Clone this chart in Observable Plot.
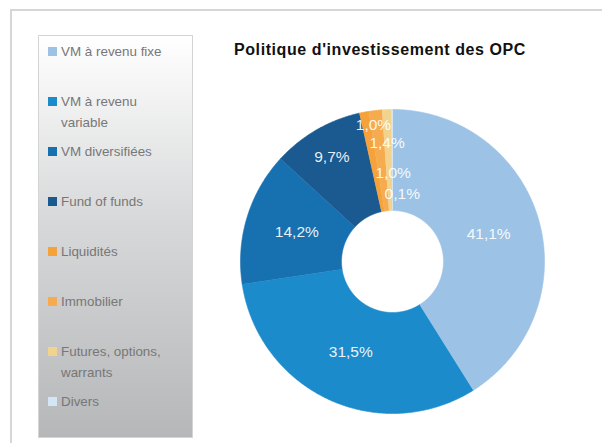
<!DOCTYPE html>
<html>
<head>
<meta charset="utf-8">
<script src="https://cdn.jsdelivr.net/npm/d3@7"></script>
<script src="https://cdn.jsdelivr.net/npm/@observablehq/plot@0.6"></script>
<style>
  html, body { margin: 0; padding: 0; background: #fff; }
  body { width: 602px; height: 443px; position: relative; overflow: hidden; font-family: "Liberation Sans", Arial, sans-serif; }
  #frame { position: absolute; left: 10px; top: 9px; width: 600px; height: 450px; border-top: 2px solid #d6d6d6; border-left: 2px solid #d6d6d6; }
  #legend { position: absolute; left: 38px; top: 35px; width: 155px; height: 403px; border: 1px solid #d4d4d4;
    background: linear-gradient(to bottom, #ffffff 0%, #fbfbfb 5%, #d8d9da 45%, #b5b7b9 100%); box-sizing: border-box; }
  .item { position: absolute; left: 9px; width: 140px; font-size: 13.4px; line-height: 21px; color: #777; display: flex; }
  .sw { width: 9px; height: 9px; margin-top: 6px; margin-right: 4px; flex: none; }
  .lbl { max-width: 125px; }
  #title { position: absolute; left: 234px; top: 41px; font-weight: bold; font-size: 16px; color: #111; white-space: nowrap; }
  #chart { position: absolute; left: 232px; top: 101px; }
</style>
</head>
<body>
<div id="frame"></div>
<div id="legend"></div>
<div id="title">Politique d'investissement des OPC</div>
<div id="chart"></div>
<script>
// Data
const categories = ["VM à revenu fixe", "VM à revenu variable", "VM diversifiées", "Fund of funds", "Liquidités", "Immobilier", "Futures, options, warrants", "Divers"];
const values = [41.1, 31.5, 14.2, 9.7, 1.0, 1.4, 1.0, 0.1];
const valueLabels = ["41,1%", "31,5%", "14,2%", "9,7%", "1,0%", "1,4%", "1,0%", "0,1%"];
const titleText = "Politique d'investissement des OPC";

// Styles / layout
const colors = ["#9cc3e6", "#1c8bcc", "#1771b1", "#1a5a90", "#f5a23a", "#f6ab4e", "#f2d38e", "#d3e6f5"];
const outerR = 152, innerR = 51;
const labelRadius = [100, 100, 100, 121, 139, 119, 89, 67];
const labelDx = [0, 0, 0, 0, 7, 8, 4, 10];

// Title: fit to target width via letter-spacing
const title = document.getElementById("title");
title.textContent = titleText;
{
  const ctx = document.createElement("canvas").getContext("2d");
  ctx.font = "bold 16px 'Liberation Sans', Arial, sans-serif";
  const w = ctx.measureText(titleText).width;
  const target = 292;
  title.style.letterSpacing = Math.max(0, (target - w) / titleText.length) + "px";
}

// Legend (HTML)
const legend = document.getElementById("legend");
categories.forEach((c, i) => {
  const d = document.createElement("div");
  d.className = "item";
  d.style.top = (5 + 50 * i) + "px";
  d.innerHTML = `<span class="sw" style="background:${colors[i]}"></span><span class="lbl">${c}</span>`;
  legend.appendChild(d);
});

// Pie geometry
const pie = d3.pie().sort(null).value(d => d.value)(categories.map((c, i) => ({cat: c, value: values[i], i})));
const pts = [];
pie.forEach(s => {
  const n = Math.max(4, Math.ceil((s.endAngle - s.startAngle) / 0.01));
  for (let k = 0; k <= n; k++) {
    const a = s.startAngle + (s.endAngle - s.startAngle) * k / n;
    pts.push({cat: s.data.cat, x: outerR * Math.sin(a), y: outerR * Math.cos(a)});
  }
  for (let k = n; k >= 0; k--) {
    const a = s.startAngle + (s.endAngle - s.startAngle) * k / n;
    pts.push({cat: s.data.cat, x: innerR * Math.sin(a), y: innerR * Math.cos(a)});
  }
});
const labels = pie.map(s => {
  const a = (s.startAngle + s.endAngle) / 2;
  const r = labelRadius[s.data.i];
  return {label: valueLabels[s.data.i], x: r * Math.sin(a) + labelDx[s.data.i], y: r * Math.cos(a)};
});

const plot = Plot.plot({
  width: 320, height: 320, margin: 0,
  style: {background: "transparent"},
  x: {domain: [-160, 160], axis: null},
  y: {domain: [-160, 160], axis: null},
  color: {domain: categories, range: colors},
  marks: [
    Plot.line(pts, {x: "x", y: "y", z: "cat", fill: "cat", stroke: "cat", strokeWidth: 0.6, curve: "linear"}),
    Plot.text(labels, {x: "x", y: "y", text: "label", fill: "white", fontSize: 15.5, fontFamily: "Liberation Sans, Arial, sans-serif", fillOpacity: 0.92})
  ]
});
document.getElementById("chart").appendChild(plot);
</script>
</body>
</html>
